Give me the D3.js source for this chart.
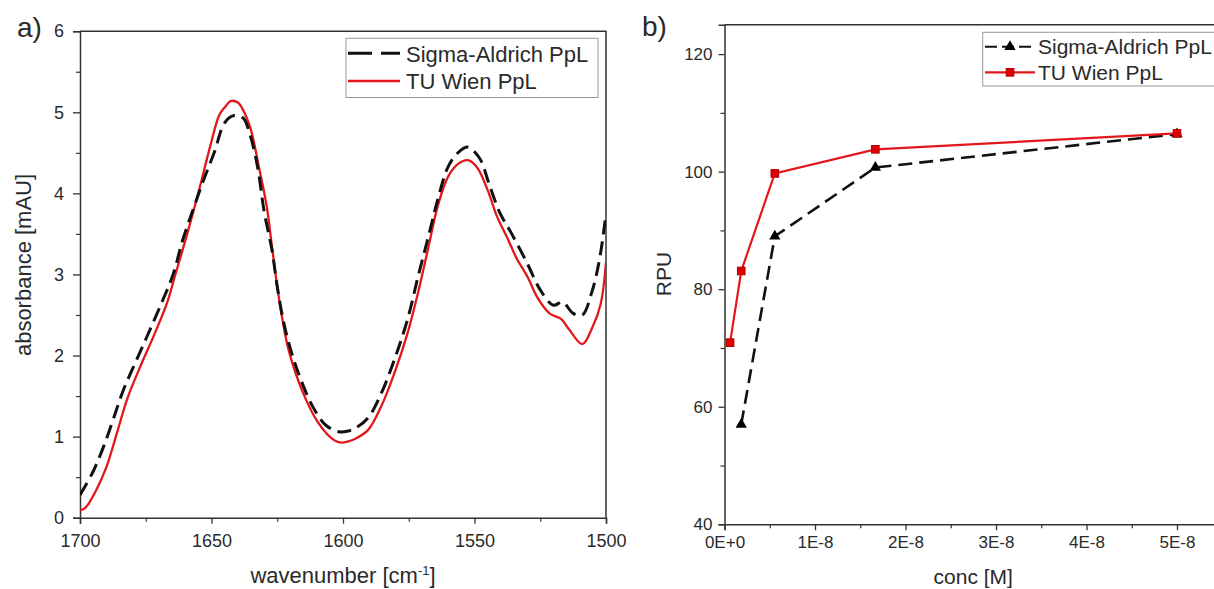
<!DOCTYPE html>
<html>
<head>
<meta charset="utf-8">
<script src="https://cdn.jsdelivr.net/npm/d3@7"></script>
<style>
  html, body { margin: 0; padding: 0; background: #fff; }
  svg { display: block; font-family: "Liberation Sans", Arial, sans-serif; }
</style>
</head>
<body>
<svg id="chart" width="1214" height="589"></svg>
<script>
// ---- panel a: IR spectra ----
const sigmaWavenumber = [1700, 1695, 1691, 1687.5, 1683.5, 1678.5, 1673.5, 1668.5, 1664.5, 1661, 1657, 1653, 1649, 1645, 1641.5, 1638, 1635.5, 1632.5, 1630, 1627, 1625, 1622.5, 1619.5, 1616, 1611.5, 1606.5, 1601.5, 1598, 1595, 1590.5, 1585.5, 1580.5, 1575.5, 1571.5, 1567.5, 1564, 1560, 1556, 1552.5, 1548, 1544.5, 1540.5, 1536, 1530, 1525, 1520, 1516.5, 1512.5, 1509, 1505.5, 1502.5, 1500];
const sigmaAbsorbance = [0.28, 0.57, 0.88, 1.2, 1.575, 1.945, 2.31, 2.685, 3.01, 3.42, 3.8, 4.165, 4.5, 4.87, 4.96, 4.93, 4.74, 4.33, 3.78, 3.3, 2.85, 2.4, 2.03, 1.7, 1.37, 1.14, 1.06, 1.07, 1.11, 1.23, 1.53, 1.945, 2.44, 2.97, 3.47, 3.92, 4.33, 4.51, 4.57, 4.43, 4.12, 3.77, 3.51, 3.14, 2.81, 2.62, 2.66, 2.52, 2.5, 2.77, 3.18, 3.75];

const tuWavenumber = [1700, 1698, 1694, 1690, 1686, 1682, 1677, 1672, 1667, 1664, 1659.5, 1654.5, 1650.5, 1647, 1645, 1642.5, 1640, 1638, 1635, 1632, 1629, 1627, 1625, 1623, 1621, 1618, 1614, 1610, 1606, 1603, 1600.5, 1598, 1595.5, 1590.5, 1585.5, 1580.5, 1575.5, 1571.5, 1567.5, 1564, 1560, 1556, 1552.5, 1549, 1545, 1541.5, 1537.5, 1534, 1530, 1526, 1521.5, 1517, 1514, 1509, 1505, 1502, 1500];
const tuAbsorbance = [0.09, 0.12, 0.33, 0.62, 1.04, 1.47, 1.87, 2.24, 2.64, 2.97, 3.47, 4.07, 4.58, 4.97, 5.06, 5.14, 5.12, 5.03, 4.78, 4.33, 3.84, 3.34, 2.85, 2.44, 2.11, 1.78, 1.45, 1.2, 1.03, 0.95, 0.925, 0.94, 0.97, 1.08, 1.37, 1.78, 2.27, 2.77, 3.34, 3.84, 4.21, 4.37, 4.41, 4.32, 4.04, 3.72, 3.45, 3.2, 2.98, 2.71, 2.52, 2.45, 2.32, 2.14, 2.36, 2.64, 3.15];

const wavenumberTicks = [1700, 1650, 1600, 1550, 1500];
const absorbanceTicks = [0, 1, 2, 3, 4, 5, 6];

// ---- panel b: RPU vs concentration ----
const concentrations = [6.17e-10, 1.85e-9, 5.56e-9, 1.667e-8, 5e-8];
const sigmaRPU = [null, 57.0, 89.0, 100.7, 106.4];
const tuRPU = [70.9, 83.1, 99.7, 103.8, 106.5];

const concTicks = [0, 1e-8, 2e-8, 3e-8, 4e-8, 5e-8];
const rpuTicks = [40, 60, 80, 100, 120];

const seriesNames = ["Sigma-Aldrich PpL", "TU Wien PpL"];

const RED = "#e3171b";
const AXIS = "#333";
const TEXT = "#2a2a2a";

const svg = d3.select("#chart");

// style helper for axes
function styleAxis(g, fontSize) {
    g.select(".domain").attr("stroke", AXIS).attr("stroke-width", 1.5);
    g.selectAll(".tick line").attr("stroke", AXIS).attr("stroke-width", 1.3);
    g.selectAll(".tick text").attr("fill", TEXT).style("font-size", fontSize + "px")
        .style("font-family", "'Liberation Sans', Arial, sans-serif");
}
function minorAxis(g) {
    g.select(".domain").remove();
    g.selectAll(".tick line").attr("stroke", AXIS).attr("stroke-width", 1.2);
}

// ============ PANEL A ============
const ax = { left: 80, right: 606, top: 31.2, bottom: 517.7 };

const xA = d3.scaleLinear().domain([1700, 1500]).range([ax.left, ax.right]);
const yA = d3.scaleLinear().domain([0, 6]).range([ax.bottom, ax.top]);

const gA = svg.append("g");

svg.append("defs").append("clipPath").attr("id", "clipA")
    .append("rect").attr("x", ax.left).attr("y", ax.top)
    .attr("width", ax.right - ax.left).attr("height", ax.bottom - ax.top);

// top + right border
gA.append("path")
    .attr("d", `M${ax.left},${ax.top}H${ax.right}V${ax.bottom}`)
    .attr("fill", "none").attr("stroke", AXIS).attr("stroke-width", 1.5);

// minor ticks
gA.append("g").attr("transform", `translate(0,${ax.bottom})`)
    .call(d3.axisBottom(xA).tickValues(d3.range(1675, 1500, -50)).tickSize(4).tickFormat(""))
    .call(minorAxis);
gA.append("g").attr("transform", `translate(${ax.left},0)`)
    .call(d3.axisLeft(yA).tickValues(d3.range(0.5, 6, 1)).tickSize(4).tickFormat(""))
    .call(minorAxis);

// major axes
gA.append("g").attr("transform", `translate(0,${ax.bottom})`)
    .call(d3.axisBottom(xA).tickValues(wavenumberTicks).tickSize(6).tickPadding(11).tickFormat(d3.format("d")))
    .call(g => styleAxis(g, 18));
gA.append("g").attr("transform", `translate(${ax.left},0)`)
    .call(d3.axisLeft(yA).tickValues(absorbanceTicks).tickSize(7).tickPadding(9).tickFormat(d3.format("d")))
    .call(g => styleAxis(g, 18));

const lineA = d3.line()
    .x(d => xA(d[0]))
    .y(d => yA(d[1]))
    .curve(d3.curveCatmullRom.alpha(0.5));

const plotA = gA.append("g").attr("clip-path", "url(#clipA)");

plotA.append("path")
    .datum(d3.zip(tuWavenumber, tuAbsorbance))
    .attr("d", lineA)
    .attr("fill", "none").attr("stroke", RED).attr("stroke-width", 2.3);

plotA.append("path")
    .datum(d3.zip(sigmaWavenumber, sigmaAbsorbance))
    .attr("d", lineA)
    .attr("fill", "none").attr("stroke", "#111").attr("stroke-width", 3)
    .attr("stroke-dasharray", "14,7");

// axis titles
gA.append("text")
    .attr("x", (ax.left + ax.right) / 2).attr("y", 583)
    .attr("text-anchor", "middle").attr("fill", TEXT).style("font-size", "22px")
    .text("wavenumber [cm")
    .append("tspan").attr("dy", -8).style("font-size", "13px").text("-1")
    .select(function () { return this.parentNode; })
    .append("tspan").attr("dy", 8).text("]");

gA.append("text")
    .attr("transform", `translate(31,265) rotate(-90)`)
    .attr("text-anchor", "middle").attr("fill", TEXT).style("font-size", "22px")
    .text("absorbance [mAU]");

gA.append("text").attr("x", 17).attr("y", 37)
    .attr("fill", TEXT).style("font-size", "28px").text("a)");

// legend a
const legA = gA.append("g");
legA.append("rect").attr("x", 346).attr("y", 38.3).attr("width", 252).attr("height", 59.2)
    .attr("fill", "#fff").attr("stroke", "#999").attr("stroke-width", 1);
legA.append("line").attr("x1", 348).attr("x2", 400).attr("y1", 53.3).attr("y2", 53.3)
    .attr("stroke", "#111").attr("stroke-width", 3).attr("stroke-dasharray", "24,9");
legA.append("line").attr("x1", 348).attr("x2", 400).attr("y1", 81).attr("y2", 81)
    .attr("stroke", RED).attr("stroke-width", 2.3);
legA.selectAll("text.lab").data(seriesNames).join("text")
    .attr("class", "lab")
    .attr("x", 406).attr("y", (d, i) => 61.5 + i * 27.7)
    .attr("fill", TEXT).style("font-size", "22px")
    .text(d => d);

// ============ PANEL B ============
const bx = { left: 724.5, right: 1222, top: 24.7, bottom: 524.3 };

const xB = d3.scaleLinear().domain([0, (bx.right - bx.left) / 90.5 * 1e-8]).range([bx.left, bx.right]);
const yB = d3.scaleLinear().domain([40, 125]).range([bx.bottom, bx.top]);

const gB = svg.append("g");

gB.append("path")
    .attr("d", `M${bx.left},${bx.top}H${bx.right}V${bx.bottom}`)
    .attr("fill", "none").attr("stroke", AXIS).attr("stroke-width", 1.5);

gB.append("g").attr("transform", `translate(0,${bx.bottom})`)
    .call(d3.axisBottom(xB).tickValues(d3.range(0.5, 6, 1).map(d => d * 1e-8)).tickSize(4).tickFormat(""))
    .call(minorAxis);
gB.append("g").attr("transform", `translate(${bx.left},0)`)
    .call(d3.axisLeft(yB).tickValues(d3.range(50, 125, 20)).tickSize(4).tickFormat(""))
    .call(minorAxis);

const concFormat = d => d === 0 ? "0E+0" : `${Math.round(d * 1e8)}E-8`;

gB.append("g").attr("transform", `translate(0,${bx.bottom})`)
    .call(d3.axisBottom(xB).tickValues(concTicks).tickSize(6).tickPadding(6).tickFormat(concFormat))
    .call(g => styleAxis(g, 17));
gB.append("g").attr("transform", `translate(${bx.left},0)`)
    .call(d3.axisLeft(yB).tickValues(rpuTicks).tickSize(6).tickPadding(6).tickFormat(d3.format("d")))
    .call(g => styleAxis(g, 17));

const lineB = d3.line()
    .defined(d => d[1] != null)
    .x(d => xB(d[0]))
    .y(d => yB(d[1]));

const sigmaPts = d3.zip(concentrations, sigmaRPU).filter(d => d[1] != null);
const tuPts = d3.zip(concentrations, tuRPU);

gB.append("path")
    .datum(sigmaPts)
    .attr("d", lineB)
    .attr("fill", "none").attr("stroke", "#111").attr("stroke-width", 2.6)
    .attr("stroke-dasharray", "14,7");

gB.append("path")
    .datum(tuPts)
    .attr("d", lineB)
    .attr("fill", "none").attr("stroke", RED).attr("stroke-width", 2.2);

const triangle = d3.symbol().type(d3.symbolTriangle).size(55);

gB.selectAll(".tri").data(sigmaPts).join("path")
    .attr("class", "tri")
    .attr("transform", d => `translate(${xB(d[0])},${yB(d[1])})`)
    .attr("d", triangle)
    .attr("fill", "#000");

gB.selectAll(".sq").data(tuPts).join("rect")
    .attr("class", "sq")
    .attr("x", d => xB(d[0]) - 3.8).attr("y", d => yB(d[1]) - 3.8)
    .attr("width", 7.6).attr("height", 7.6)
    .attr("fill", "#e00000").attr("stroke", "#b00000").attr("stroke-width", 1);

// axis titles
gB.append("text")
    .attr("x", (bx.left + bx.right) / 2).attr("y", 584)
    .attr("text-anchor", "middle").attr("fill", TEXT).style("font-size", "21px")
    .text("conc [M]");

gB.append("text")
    .attr("transform", `translate(671,274) rotate(-90)`)
    .attr("text-anchor", "middle").attr("fill", TEXT).style("font-size", "21px")
    .text("RPU");

gB.append("text").attr("x", 642).attr("y", 36)
    .attr("fill", TEXT).style("font-size", "28px").text("b)");

// legend b
const legB = gB.append("g");
legB.append("rect").attr("x", 982.7).attr("y", 32.3).attr("width", 260).attr("height", 53.7)
    .attr("fill", "#fff").attr("stroke", "#999").attr("stroke-width", 1);
legB.append("line").attr("x1", 985).attr("x2", 1035).attr("y1", 46.7).attr("y2", 46.7)
    .attr("stroke", "#111").attr("stroke-width", 2).attr("stroke-dasharray", "12,5");
legB.append("path").attr("transform", "translate(1010,46.7)").attr("d", triangle).attr("fill", "#000");
legB.append("line").attr("x1", 985).attr("x2", 1035).attr("y1", 72.3).attr("y2", 72.3)
    .attr("stroke", RED).attr("stroke-width", 2.2);
legB.append("rect").attr("x", 1010 - 3.8).attr("y", 72.3 - 3.8).attr("width", 7.6).attr("height", 7.6)
    .attr("fill", "#e00000").attr("stroke", "#b00000").attr("stroke-width", 1);
legB.selectAll("text.lab").data(seriesNames).join("text")
    .attr("class", "lab")
    .attr("x", 1038).attr("y", (d, i) => 54.2 + i * 25.6)
    .attr("fill", TEXT).style("font-size", "21px")
    .text(d => d);
</script>
</body>
</html>
